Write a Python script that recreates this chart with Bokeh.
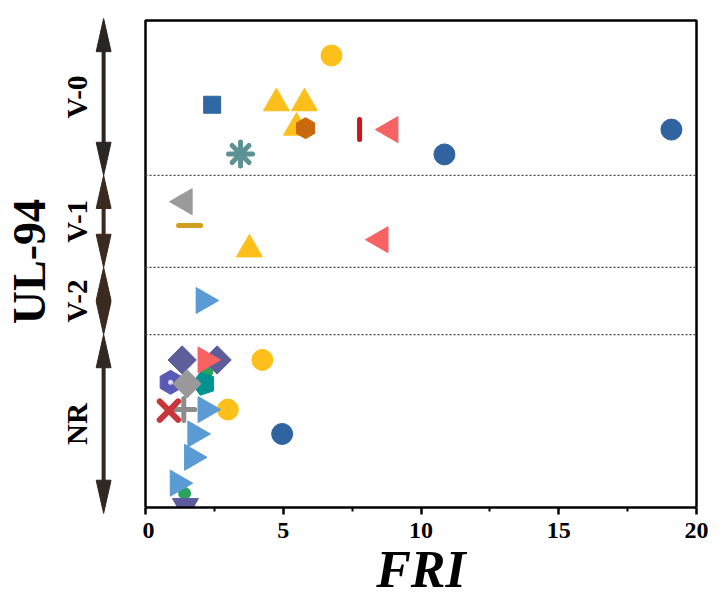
import numpy as np
from bokeh.plotting import figure
from bokeh.layouts import row
from bokeh.models import FixedTicker
from bokeh.core.properties import value
from bokeh.embed import file_html
from bokeh.resources import INLINE

# ---------------- data ----------------
x_ticks = [0, 5, 10, 15, 20]
x_minor = [2.5, 7.5, 12.5, 17.5]
x_lo, x_hi = 0, 20
y_lo, y_hi = 0, 100

# UL-94 rating levels (top to bottom) and their band boundaries on the vertical scale
levels = ["V-0", "V-1", "V-2", "NR"]
level_bounds = [100.4, 68.2, 49.3, 35.5, -1.2]
arrow_colors = ["#2a2623", "#3a2a1f", "#3a2a1f", "#2f2823"]

# each series: FRI value and vertical position inside its rating band
yellow_tri_fri = [4.75, 5.77, 5.48, 3.77]
yellow_tri_pos = [83.0, 83.0, 78.0, 53.0]
orange_hex_fri = [5.81]
orange_hex_pos = [77.9]
blue_square_fri = [2.42]
blue_square_pos = [82.7]
teal_ast_fri = [3.45]
teal_ast_pos = [72.6]
red_bar_fri = [7.77]
red_bar_pos = [77.6]
salmon_left_fri = [8.89, 8.53]
salmon_left_pos = [77.6, 55.0]
blue_circle_fri = [10.85, 19.09, 4.96]
blue_circle_pos = [72.5, 77.6, 15.1]
yellow_circle_fri = [6.75, 4.24, 2.99]
yellow_circle_pos = [92.8, 30.3, 20.1]
gray_left_fri = [1.42]
gray_left_pos = [62.8]
gold_dash_fri = [1.60]
gold_dash_pos = [57.9]
green_circle_fri = [2.22, 1.42]
green_circle_pos = [27.8, 2.9]
purple_hexdot_fri = [0.91]
purple_hexdot_pos = [25.7]
teal_pent_fri = [2.12]
teal_pent_pos = [25.4]
purple_diamond_fri = [1.33, 2.60]
purple_diamond_pos = [30.3, 30.3]
salmon_right_fri = [2.18]
salmon_right_pos = [30.3]
gray_diamond_fri = [1.51]
gray_diamond_pos = [25.4]
gray_cross_fri = [1.39]
gray_cross_pos = [20.1]
red_x_fri = [0.85]
red_x_pos = [19.9]
lblue_right_fri = [2.11, 2.18, 1.81, 1.69, 1.17]
lblue_right_pos = [42.5, 20.1, 15.1, 10.3, 5.0]
purple_inv_fri = [1.45]
purple_inv_pos = [0.3]

# ---------------- layout constants ----------------
SERIF = "Liberation Serif"
PX_X = 27.55      # pixels per FRI unit
PX_Y = 4.87       # pixels per vertical unit
X0_PX = 145       # pixel of FRI = 0
Y0_PX = 507       # pixel of vertical 0
SPLIT_PX = 142    # boundary between left panel and plot frame
RIGHT_PX = 699
MAIN_H = 507
LEFT_H = 520

def xdata(px):
    return (px - X0_PX) / PX_X

def ydata(py):
    return (Y0_PX - py) / PX_Y

# ---------------- left panel: rating arrows & labels ----------------
lf = figure(frame_width=SPLIT_PX, frame_height=LEFT_H,
            x_range=(xdata(0), xdata(SPLIT_PX)), y_range=(ydata(LEFT_H), ydata(0)),
            x_axis_location=None, y_axis_location=None, toolbar_location=None,
            output_backend="svg", min_border=0)
lf.outline_line_color = None
lf.grid.visible = False

arrow_x = -1.52
hl, hw = 6.8, 0.27
for i, lev in enumerate(levels):
    top, bot = level_bounds[i], level_bounds[i + 1]
    c = arrow_colors[i]
    lf.segment(x0=[arrow_x], x1=[arrow_x], y0=[top - hl * 0.5], y1=[bot + hl * 0.5],
               line_color=c, line_width=4)
    lf.patches(xs=[[arrow_x - hw, arrow_x + hw, arrow_x], [arrow_x - hw, arrow_x + hw, arrow_x]],
               ys=[[top - hl, top - hl, top], [bot + hl, bot + hl, bot]],
               fill_color=c, line_color=c, line_width=1)

mids = [(level_bounds[i] + level_bounds[i + 1]) / 2 for i in range(len(levels))]
lf.text(x=[-2.50] * len(levels), y=mids, text=levels, angle=np.pi / 2,
        text_font=value(SERIF), text_font_style="bold", text_font_size="29px",
        text_align="center", text_baseline="middle", text_color="black")
lf.text(x=[-4.22], y=[50.5], text=["UL-94"], angle=np.pi / 2,
        text_font=value(SERIF), text_font_style="bold", text_font_size="46px",
        text_align="center", text_baseline="middle", text_color="black")

# ---------------- main plot ----------------
p = figure(frame_width=RIGHT_PX - SPLIT_PX, frame_height=MAIN_H,
           x_range=(xdata(SPLIT_PX), xdata(RIGHT_PX)), y_range=(ydata(MAIN_H), ydata(0)),
           y_axis_location=None, toolbar_location=None, output_backend="svg",
           min_border_left=0, min_border_right=15, min_border_top=0, min_border_bottom=0)
p.outline_line_color = None
p.grid.visible = False

ax = p.xaxis[0]
ax.bounds = (x_lo, x_hi)
ax.ticker = FixedTicker(ticks=x_ticks, minor_ticks=x_minor)
ax.axis_line_width = 2.5
ax.axis_line_color = "black"
ax.major_tick_in = 0
ax.major_tick_out = 7
ax.major_tick_line_width = 2.5
ax.minor_tick_in = 0
ax.minor_tick_out = 4
ax.minor_tick_line_width = 2
ax.major_label_text_font = SERIF
ax.major_label_text_font_style = "bold"
ax.major_label_text_font_size = "24px"
ax.major_label_text_color = "black"
ax.major_label_standoff = 8
ax.axis_label = "FRI"
ax.axis_label_text_font = SERIF
ax.axis_label_text_font_style = "bold italic"
ax.axis_label_text_font_size = "52px"
ax.axis_label_text_color = "black"
ax.axis_label_standoff = 0

# box (top, left, right spines)
p.line(x=[x_lo, x_lo, x_hi, x_hi], y=[y_lo, y_hi, y_hi, y_lo], line_color="black", line_width=2.5)

# dotted separators between ratings
inner = level_bounds[1:-1]
p.segment(x0=[x_lo] * len(inner), x1=[x_hi] * len(inner), y0=inner, y1=inner,
          line_color="#444444", line_width=1.2, line_dash="2 2")

def filled(xs, ys, marker, color, size, angle=0.0):
    p.scatter(x=xs, y=ys, marker=marker, size=size, angle=angle,
              fill_color=color, line_color=color, line_width=1)

def stroked(xs, ys, marker, color, size, lw, angle=0.0):
    p.scatter(x=xs, y=ys, marker=marker, size=size, angle=angle,
              line_color=color, line_width=lw, fill_color=None, line_cap="round")

# V-0 / V-1 / V-2
filled(yellow_tri_fri, yellow_tri_pos, "triangle", "#FDC01A", 26)
filled(orange_hex_fri, orange_hex_pos, "hex", "#C8690D", 21, np.pi / 2)
filled(blue_square_fri, blue_square_pos, "square", "#2E67A3", 17)
stroked(teal_ast_fri, teal_ast_pos, "asterisk", "#5D9294", 24, 5)
stroked(red_bar_fri, red_bar_pos, "dash", "#D2121B", 20, 5, np.pi / 2)
filled(salmon_left_fri, salmon_left_pos, "triangle", "#F96262", 26, np.pi / 2)
filled(gray_left_fri, gray_left_pos, "triangle", "#9A9A9A", 26, np.pi / 2)
stroked(gold_dash_fri, gold_dash_pos, "dash", "#CF9F1F", 22, 5)

# NR cluster
filled(green_circle_fri, green_circle_pos, "circle", "#2AA35E", 12)
filled(purple_hexdot_fri, purple_hexdot_pos, "hex", "#5A59B5", 24, np.pi / 2)
p.scatter(x=purple_hexdot_fri, y=purple_hexdot_pos, marker="circle", size=5,
          fill_color="#D8D8F4", line_color=None)
p.ngon(x=teal_pent_fri, y=teal_pent_pos, radius=12, radius_units="screen", n=5,
       angle=np.pi / 2, fill_color="#00938F", line_color="#00938F")
filled(purple_diamond_fri, purple_diamond_pos, "square", "#5B5E9B", 20, np.pi / 4)
filled(salmon_right_fri, salmon_right_pos, "triangle", "#F96262", 26, -np.pi / 2)
filled(gray_diamond_fri, gray_diamond_pos, "square", "#999999", 20, np.pi / 4)
stroked(gray_cross_fri, gray_cross_pos, "cross", "#8C8C8C", 22, 5)
stroked(red_x_fri, red_x_pos, "x", "#C8363A", 26, 6)
filled(purple_inv_fri, purple_inv_pos, "inverted_triangle", "#5B5B9E", 26)

filled(blue_circle_fri, blue_circle_pos, "circle", "#2F64A0", 21)
filled(yellow_circle_fri, yellow_circle_pos, "circle", "#FDC01A", 21)
filled(lblue_right_fri, lblue_right_pos, "triangle", "#5B9BD5", 26, -np.pi / 2)

layout = row(lf, p, spacing=0)
open("out.html", "w").write(file_html(layout, INLINE))
